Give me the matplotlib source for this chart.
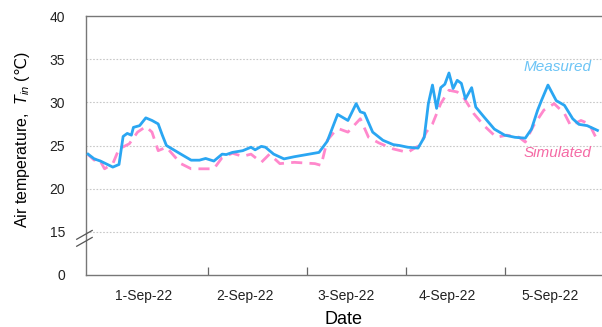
import matplotlib
matplotlib.use("Agg")
import matplotlib.pyplot as plt

plt.rcParams['font.family'] = ['Liberation Sans', 'DejaVu Sans']
plt.rcParams['mathtext.fontset'] = 'custom'
plt.rcParams['mathtext.it'] = 'Liberation Sans:italic'
plt.rcParams['mathtext.rm'] = 'Liberation Sans'
plt.rcParams['mathtext.sf'] = 'DejaVu Sans'

# Hours elapsed since the start of the record
meas_hours = [0, 1.5, 3, 6, 7.5, 8.5, 9.5, 10.5, 11, 12.5, 14, 15.5, 17, 18, 19, 22.5,
              25, 27, 28.5, 30.5, 32.5, 33.5, 35, 37.5, 39.5, 40.5, 42, 43, 45, 47.5,
              50, 53, 56, 58, 60.5, 63, 65, 66, 67, 69, 71.5, 74, 75.5, 77.5, 80,
              81.5, 82.5, 83.5, 84.5, 85.5, 86.5, 87.5, 88.5, 89.5, 90.5, 91.5, 93,
              94, 96, 98.5, 101, 103.5, 106, 107.5, 109, 110, 111.5, 113.5, 115.5,
              117.5, 119, 121, 123.5]
meas_temp = [24.0, 23.45, 23.2, 22.5, 22.8, 26.05, 26.4, 26.2, 27.1, 27.3, 28.2, 27.9,
             27.5, 26.2, 25.0, 24.0, 23.3, 23.3, 23.5, 23.2, 24.0, 23.95, 24.2, 24.4,
             24.8, 24.5, 24.9, 24.8, 24.0, 23.45, 23.7, 23.95, 24.2, 25.5, 28.6, 27.9,
             29.85, 28.9, 28.75, 26.55, 25.6, 25.1, 25.0, 24.8, 24.7, 25.95, 29.85,
             32.0, 29.3, 31.7, 32.1, 33.4, 31.6, 32.55, 32.2, 30.4, 31.7, 29.45, 28.3,
             26.9, 26.2, 25.95, 25.85, 26.9, 29.1, 30.3, 32.0, 30.2, 29.65, 28.1,
             27.45, 27.3, 26.75]

sim_hours = [0, 1.5, 2.5, 4, 6, 7.5, 10, 12, 14, 15.5, 17, 19, 22.5, 25, 30.5, 32.5,
             35, 37.5, 39.5, 42, 44, 46.5, 50, 55, 56.5, 58, 60, 61, 63, 66, 68, 70.5,
             74, 77.5, 79.5, 80.5, 82, 83.5, 85.5, 87.5, 89.5, 91, 93.5, 96, 99, 101.5,
             104.5, 106, 108, 110.5, 113, 115.5, 117, 119.5, 121.5, 123]
sim_temp = [23.95, 23.3, 23.6, 22.3, 22.9, 24.6, 25.2, 26.55, 27.2, 26.55, 24.4, 24.8,
            22.9, 22.3, 22.3, 23.6, 24.1, 23.75, 24.0, 23.05, 24.0, 22.9, 23.05, 22.9,
            22.7, 25.6, 26.75, 26.9, 26.55, 28.1, 25.95, 25.3, 24.6, 24.2, 24.8, 25.0,
            26.55, 27.5, 29.85, 31.4, 31.2, 30.6, 28.7, 27.3, 25.95, 26.2, 25.95, 25.4,
            27.3, 29.1, 29.85, 28.7, 27.3, 27.9, 27.5, 26.05]

day_bounds = [29, 53, 77, 101]
day_label_pos = [13.5, 38, 62.5, 87, 112]
day_labels = ['1-Sep-22', '2-Sep-22', '3-Sep-22', '4-Sep-22', '5-Sep-22']

# The axis is broken below 15: the lowest tick stands for 0
y_ticks = [10, 15, 20, 25, 30, 35, 40]
y_tick_labels = ['0', '15', '20', '25', '30', '35', '40']

W, H = 602, 327
fig = plt.figure(figsize=(W / 100, H / 100), dpi=100)
ax = fig.add_axes([86 / W, (H - 275) / H, (W - 86) / W, (275 - 16) / H])

ax.plot(sim_hours, sim_temp, color='#ff88cc', lw=2.0, ls=(0, (4, 2.6)), zorder=2)
ax.plot(meas_hours, meas_temp, color='#2aa6f2', lw=2.0, zorder=3)

ax.set_xlim(-0.5, 124.6)
ax.set_ylim(10, 40)

ax.set_yticks(y_ticks)
ax.set_yticklabels(y_tick_labels, fontsize=10)
ax.tick_params(axis='y', length=0, pad=15, colors='#222222')
for v in y_ticks[1:-1]:
    ax.axhline(v, color='#c8c8c8', lw=0.8, ls=(0, (1.5, 1.5)), zorder=1)

ax.set_xticks(day_bounds)
ax.set_xticklabels([])
ax.set_xticks(day_label_pos, minor=True)
ax.set_xticklabels(day_labels, minor=True, fontsize=10)
ax.tick_params(axis='x', which='major', direction='in', length=6, width=0.9, color='#666666')
ax.tick_params(axis='x', which='minor', length=0, pad=10, colors='#222222')

for side in ['left', 'bottom', 'top']:
    ax.spines[side].set_color('#777777')
    ax.spines[side].set_linewidth(1.0)
ax.spines['right'].set_visible(False)

# Break marks on the y axis
for y0 in [0.155, 0.128]:
    ax.plot([-0.018, 0.012], [y0 - 0.017, y0 + 0.017], transform=ax.transAxes,
            color='#555555', lw=0.9, clip_on=False, zorder=5)

ax.set_xlabel('Date', fontsize=13, labelpad=6)
ax.set_ylabel(r'Air temperature,  $T_{in}$ ($\mathsf{℃}$)', fontsize=11.5)
ax.yaxis.set_label_coords((32 - 86) / (W - 86), 0.523)

ax.text(558, H - 67, 'Measured', transform=None, fontsize=11, style='italic',
        color='#6cc4f5', ha='center', va='center')
ax.text(557, H - 153, 'Simulated', transform=None, fontsize=11, style='italic',
        color='#f56aa5', ha='center', va='center')

fig.savefig('out.png', dpi=100)
